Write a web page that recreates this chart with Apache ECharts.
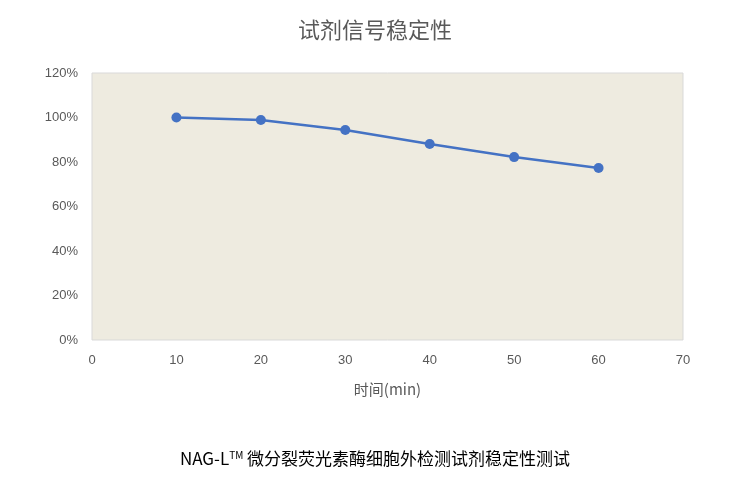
<!DOCTYPE html>
<html><head><meta charset="utf-8">
<script src="https://cdn.jsdelivr.net/npm/echarts@6/dist/echarts.min.js"></script>
<style>html,body{margin:0;padding:0;background:#fff}#c{width:750px;height:489px}</style>
</head><body><div id="c"></div>
<script>
const xValues = [10, 20, 30, 40, 50, 60];
const yValues = [100, 98.9, 94.4, 88.1, 82.2, 77.3];
const titleText = '试剂信号稳定性';
const xName = '时间(min)';
const chart = echarts.init(document.getElementById('c'));
const font = '"Noto Sans CJK SC","Microsoft YaHei",sans-serif';
chart.setOption({
  animation: false,
  title: {text: titleText, left: 'center', top: 14, textStyle: {fontSize: 22, fontWeight: 'normal', color: '#595959', fontFamily: font}},
  graphic: [{type: 'text', left: 'center', top: 450, style: {
    text: '{a|NAG-L}{s|TM}{a| 微分裂荧光素酶细胞外检测试剂稳定性测试}',
    rich: {a: {fontSize: 17, fill: '#000', fontFamily: font}, s: {fontSize: 10, fill: '#000', verticalAlign: 'top', padding: [0, 0, 8, 0], fontFamily: font}}
  }}],
  grid: {left: 92, right: 67, top: 73, bottom: 149, show: true, backgroundColor: '#EEEBE0', borderColor: '#D9D9D9', borderWidth: 1},
  xAxis: {type: 'value', min: 0, max: 70, interval: 10, name: xName, nameLocation: 'middle', nameGap: 42,
    nameTextStyle: {fontSize: 15, color: '#595959', fontFamily: font},
    axisLine: {show: false}, axisTick: {show: false}, splitLine: {show: false},
    axisLabel: {fontSize: 13, color: '#595959', margin: 14}},
  yAxis: {type: 'value', min: 0, max: 120, interval: 20,
    axisLine: {show: false}, axisTick: {show: false}, splitLine: {show: false},
    axisLabel: {fontSize: 13, color: '#595959', formatter: '{value}%', margin: 14}},
  series: [{type: 'line', data: xValues.map((x, i) => [x, yValues[i]]),
    symbol: 'circle', symbolSize: 10, lineStyle: {color: '#4472C4', width: 2.5},
    itemStyle: {color: '#4472C4'}}]
});
</script></body></html>
